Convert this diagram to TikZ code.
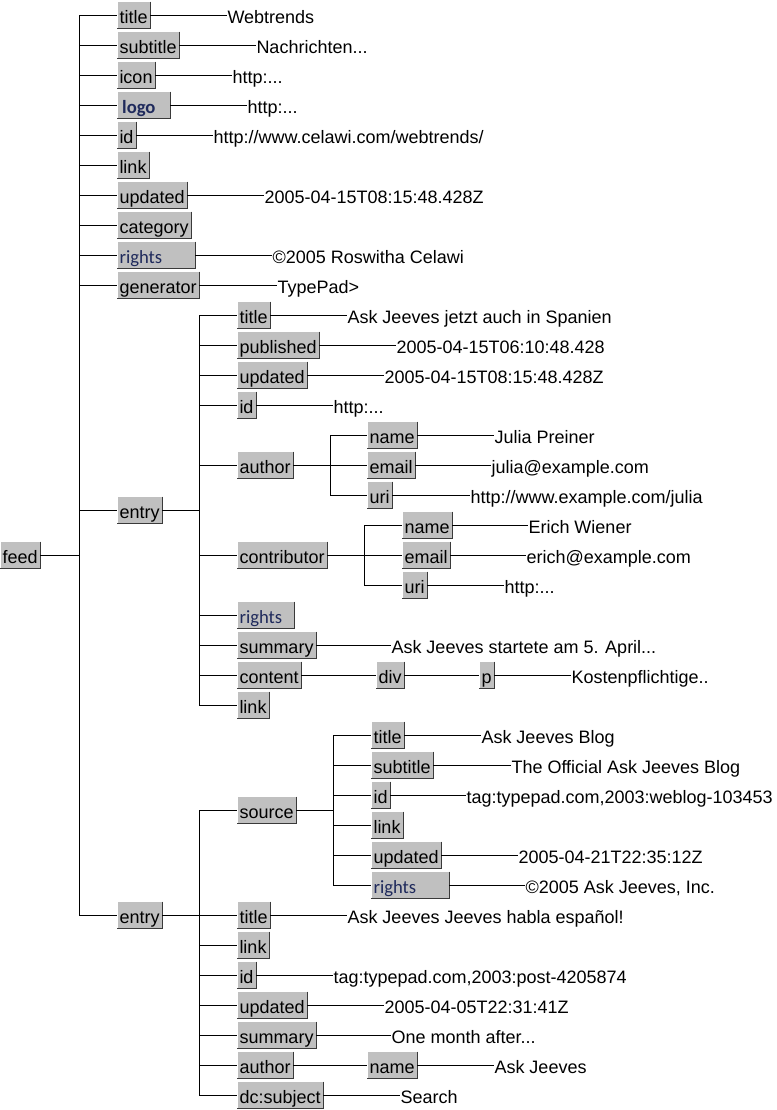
\documentclass[tikz,border=0pt]{standalone}
\usepackage{fontspec}
\setmainfont{Liberation Sans}
\newfontfamily\calfont{Carlito}
\definecolor{BoxGray}{HTML}{C0C0C0}
\definecolor{BoxEdge}{HTML}{3A3A3A}
\definecolor{RightsBlue}{HTML}{1F2A5C}
\usetikzlibrary{positioning}

\tikzset{
  elem/.style={fill=BoxGray, anchor=west, inner xsep=1.5pt, inner ysep=0pt,
    text height=16.1pt, text depth=3.4pt,
    append after command={\pgfextra{\draw[BoxEdge, line width=0.75pt]
      (\tikzlastnode.north east) -- (\tikzlastnode.south east) -- (\tikzlastnode.south west);}}},
  calbox/.style={elem, text width=#1, align=left, text=RightsBlue,
    font=\calfont\fontsize{14}{16}\selectfont},
  val/.style={anchor=west, inner sep=0pt, text height=16.1pt, text depth=3.4pt}
}

\begin{document}
\begin{tikzpicture}[x=0.75pt, y=-0.75pt, line width=0.75pt, font=\fontsize{13.5}{16}\selectfont]
\useasboundingbox (0,0) rectangle (776,1110);

% root and its bar
\node[elem] (feed) at (0,555) {feed};
\coordinate (feedbar) at (79,555);

% feed children
\node[elem] (ftitle) at (117,15) {title};
\node[elem] (fsubtitle) at (117,45) {subtitle};
\node[elem] (ficon) at (117,75) {icon};
\node[calbox=36pt, font=\calfont\bfseries\fontsize{14}{16}\selectfont] (flogo) at (117,105) {\hspace*{2pt}logo};
\node[elem] (fid) at (117,135) {id};
\node[elem] (flink) at (117,165) {link};
\node[elem] (fupdated) at (117,195) {updated};
\node[elem] (fcategory) at (117,225) {category};
\node[calbox=54.75pt] (frights) at (117,255) {rights};
\node[elem] (fgenerator) at (117,285) {generator};
\node[elem] (entryA) at (117,510) {entry};
\node[elem] (entryB) at (117,915) {entry};

\node[val] (ftitlev) at (227,15) {Webtrends};
\node[val] (fsubtitlev) at (256,45) {Nachrichten...};
\node[val] (ficonv) at (232,75) {http:...};
\node[val] (flogov) at (247,105) {http:...};
\node[val] (fidv) at (213,135) {http://www.celawi.com/webtrends/};
\node[val] (fupdatedv) at (264,195) {2005-04-15T08:15:48.428Z};
\node[val] (frightsv) at (272,255) {©2005 Roswitha Celawi};
\node[val] (fgeneratorv) at (277,285) {TypePad>};

\draw (feed) -- (feedbar);
\draw (feedbar |- ftitle) -- (feedbar |- entryB);
\draw (feedbar |- ftitle) -- (ftitle);
\draw (feedbar |- fsubtitle) -- (fsubtitle);
\draw (feedbar |- ficon) -- (ficon);
\draw (feedbar |- flogo) -- (flogo);
\draw (feedbar |- fid) -- (fid);
\draw (feedbar |- flink) -- (flink);
\draw (feedbar |- fupdated) -- (fupdated);
\draw (feedbar |- fcategory) -- (fcategory);
\draw (feedbar |- frights) -- (frights);
\draw (feedbar |- fgenerator) -- (fgenerator);
\draw (feedbar |- entryA) -- (entryA);
\draw (feedbar |- entryB) -- (entryB);

\draw (ftitle) -- (ftitlev);
\draw (fsubtitle) -- (fsubtitlev);
\draw (ficon) -- (ficonv);
\draw (flogo) -- (flogov);
\draw (fid) -- (fidv);
\draw (fupdated) -- (fupdatedv);
\draw (frights) -- (frightsv);
\draw (fgenerator) -- (fgeneratorv);

% first entry
\coordinate (entryAbar) at (199,510);
\node[elem] (atitle) at (237,315) {title};
\node[elem] (apublished) at (237,345) {published};
\node[elem] (aupdated) at (237,375) {updated};
\node[elem] (aid) at (237,405) {id};
\node[elem] (aauthor) at (237,465) {author};
\node[elem] (acontrib) at (237,555) {contributor};
\node[calbox=39pt] (arights) at (237,615) {rights};
\node[elem] (asummary) at (237,645) {summary};
\node[elem] (acontent) at (237,675) {content};
\node[elem] (alink) at (237,705) {link};

\node[val] (atitlev) at (347,315) {Ask Jeeves jetzt auch in Spanien};
\node[val] (apublishedv) at (396,345) {2005-04-15T06:10:48.428};
\node[val] (aupdatedv) at (384,375) {2005-04-15T08:15:48.428Z};
\node[val] (aidv) at (333,405) {http:...};
\node[val] (asummaryv) at (391,645) {Ask Jeeves startete am 5. April...};

\draw (entryA) -- (entryAbar);
\draw (entryAbar |- atitle) -- (entryAbar |- alink);
\draw (entryAbar |- atitle) -- (atitle);
\draw (entryAbar |- apublished) -- (apublished);
\draw (entryAbar |- aupdated) -- (aupdated);
\draw (entryAbar |- aid) -- (aid);
\draw (entryAbar |- aauthor) -- (aauthor);
\draw (entryAbar |- acontrib) -- (acontrib);
\draw (entryAbar |- arights) -- (arights);
\draw (entryAbar |- asummary) -- (asummary);
\draw (entryAbar |- acontent) -- (acontent);
\draw (entryAbar |- alink) -- (alink);

\draw (atitle) -- (atitlev);
\draw (apublished) -- (apublishedv);
\draw (aupdated) -- (aupdatedv);
\draw (aid) -- (aidv);
\draw (asummary) -- (asummaryv);

% author
\coordinate (authbar) at (330,465);
\node[elem] (aname) at (367,435) {name};
\node[elem] (aemail) at (367,465) {email};
\node[elem] (auri) at (367,495) {uri};
\node[val] (anamev) at (494,435) {Julia Preiner};
\node[val] (aemailv) at (491,465) {julia@example.com};
\node[val] (auriv) at (470,495) {http://www.example.com/julia};
\draw (aauthor) -- (authbar);
\draw (authbar |- aname) -- (authbar |- auri);
\draw (authbar |- aname) -- (aname);
\draw (authbar |- aemail) -- (aemail);
\draw (authbar |- auri) -- (auri);
\draw (aname) -- (anamev);
\draw (aemail) -- (aemailv);
\draw (auri) -- (auriv);

% contributor
\coordinate (contbar) at (364,555);
\node[elem] (cname) at (402,525) {name};
\node[elem] (cemail) at (402,555) {email};
\node[elem] (curi) at (402,585) {uri};
\node[val] (cnamev) at (528,525) {Erich Wiener};
\node[val] (cemailv) at (526,555) {erich@example.com};
\node[val] (curiv) at (504,585) {http:...};
\draw (acontrib) -- (contbar);
\draw (contbar |- cname) -- (contbar |- curi);
\draw (contbar |- cname) -- (cname);
\draw (contbar |- cemail) -- (cemail);
\draw (contbar |- curi) -- (curi);
\draw (cname) -- (cnamev);
\draw (cemail) -- (cemailv);
\draw (curi) -- (curiv);

% content
\node[elem] (adiv) at (376,675) {div};
\node[elem] (ap) at (479,675) {p};
\node[val] (apv) at (571,675) {Kostenpflichtige..};
\draw (acontent) -- (adiv);
\draw (adiv) -- (ap);
\draw (ap) -- (apv);

% second entry
\coordinate (entryBbar) at (199,915);
\node[elem] (source) at (237,810) {source};
\node[elem] (btitle) at (237,915) {title};
\node[elem] (blink) at (237,945) {link};
\node[elem] (bid) at (237,975) {id};
\node[elem] (bupdated) at (237,1005) {updated};
\node[elem] (bsummary) at (237,1035) {summary};
\node[elem] (bauthor) at (237,1065) {author};
\node[elem] (bsubject) at (237,1095) {dc:subject};

\node[val] (btitlev) at (347,915) {Ask Jeeves Jeeves habla español!};
\node[val] (bidv) at (333,975) {tag:typepad.com,2003:post-4205874};
\node[val] (bupdatedv) at (384,1005) {2005-04-05T22:31:41Z};
\node[val] (bsummaryv) at (391,1035) {One month after...};
\node[val] (bsubjectv) at (400,1095) {Search};

\draw (entryB) -- (entryBbar);
\draw (entryBbar |- source) -- (entryBbar |- bsubject);
\draw (entryBbar |- source) -- (source);
\draw (entryBbar |- btitle) -- (btitle);
\draw (entryBbar |- blink) -- (blink);
\draw (entryBbar |- bid) -- (bid);
\draw (entryBbar |- bupdated) -- (bupdated);
\draw (entryBbar |- bsummary) -- (bsummary);
\draw (entryBbar |- bauthor) -- (bauthor);
\draw (entryBbar |- bsubject) -- (bsubject);

\draw (btitle) -- (btitlev);
\draw (bid) -- (bidv);
\draw (bupdated) -- (bupdatedv);
\draw (bsummary) -- (bsummaryv);
\draw (bsubject) -- (bsubjectv);

% author of the second entry
\node[elem] (bname) at (367,1065) {name};
\node[val] (bnamev) at (494,1065) {Ask Jeeves};
\draw (bauthor) -- (bname);
\draw (bname) -- (bnamev);

% source
\coordinate (sourcebar) at (333,810);
\node[elem] (stitle) at (371,735) {title};
\node[elem] (ssubtitle) at (371,765) {subtitle};
\node[elem] (sid) at (371,795) {id};
\node[elem] (slink) at (371,825) {link};
\node[elem] (supdated) at (371,855) {updated};
\node[calbox=54.75pt] (srights) at (371,885) {rights};

\node[val] (stitlev) at (481,735) {Ask Jeeves Blog};
\node[val] (ssubtitlev) at (511,765) {The Official Ask Jeeves Blog};
\node[val] (sidv) at (466,795) {tag:typepad.com,2003:weblog-103453};
\node[val] (supdatedv) at (518,855) {2005-04-21T22:35:12Z};
\node[val] (srightsv) at (525,885) {©2005 Ask Jeeves, Inc.};

\draw (source) -- (sourcebar);
\draw (sourcebar |- stitle) -- (sourcebar |- srights);
\draw (sourcebar |- stitle) -- (stitle);
\draw (sourcebar |- ssubtitle) -- (ssubtitle);
\draw (sourcebar |- sid) -- (sid);
\draw (sourcebar |- slink) -- (slink);
\draw (sourcebar |- supdated) -- (supdated);
\draw (sourcebar |- srights) -- (srights);

\draw (stitle) -- (stitlev);
\draw (ssubtitle) -- (ssubtitlev);
\draw (sid) -- (sidv);
\draw (supdated) -- (supdatedv);
\draw (srights) -- (srightsv);
\end{tikzpicture}
\end{document}
